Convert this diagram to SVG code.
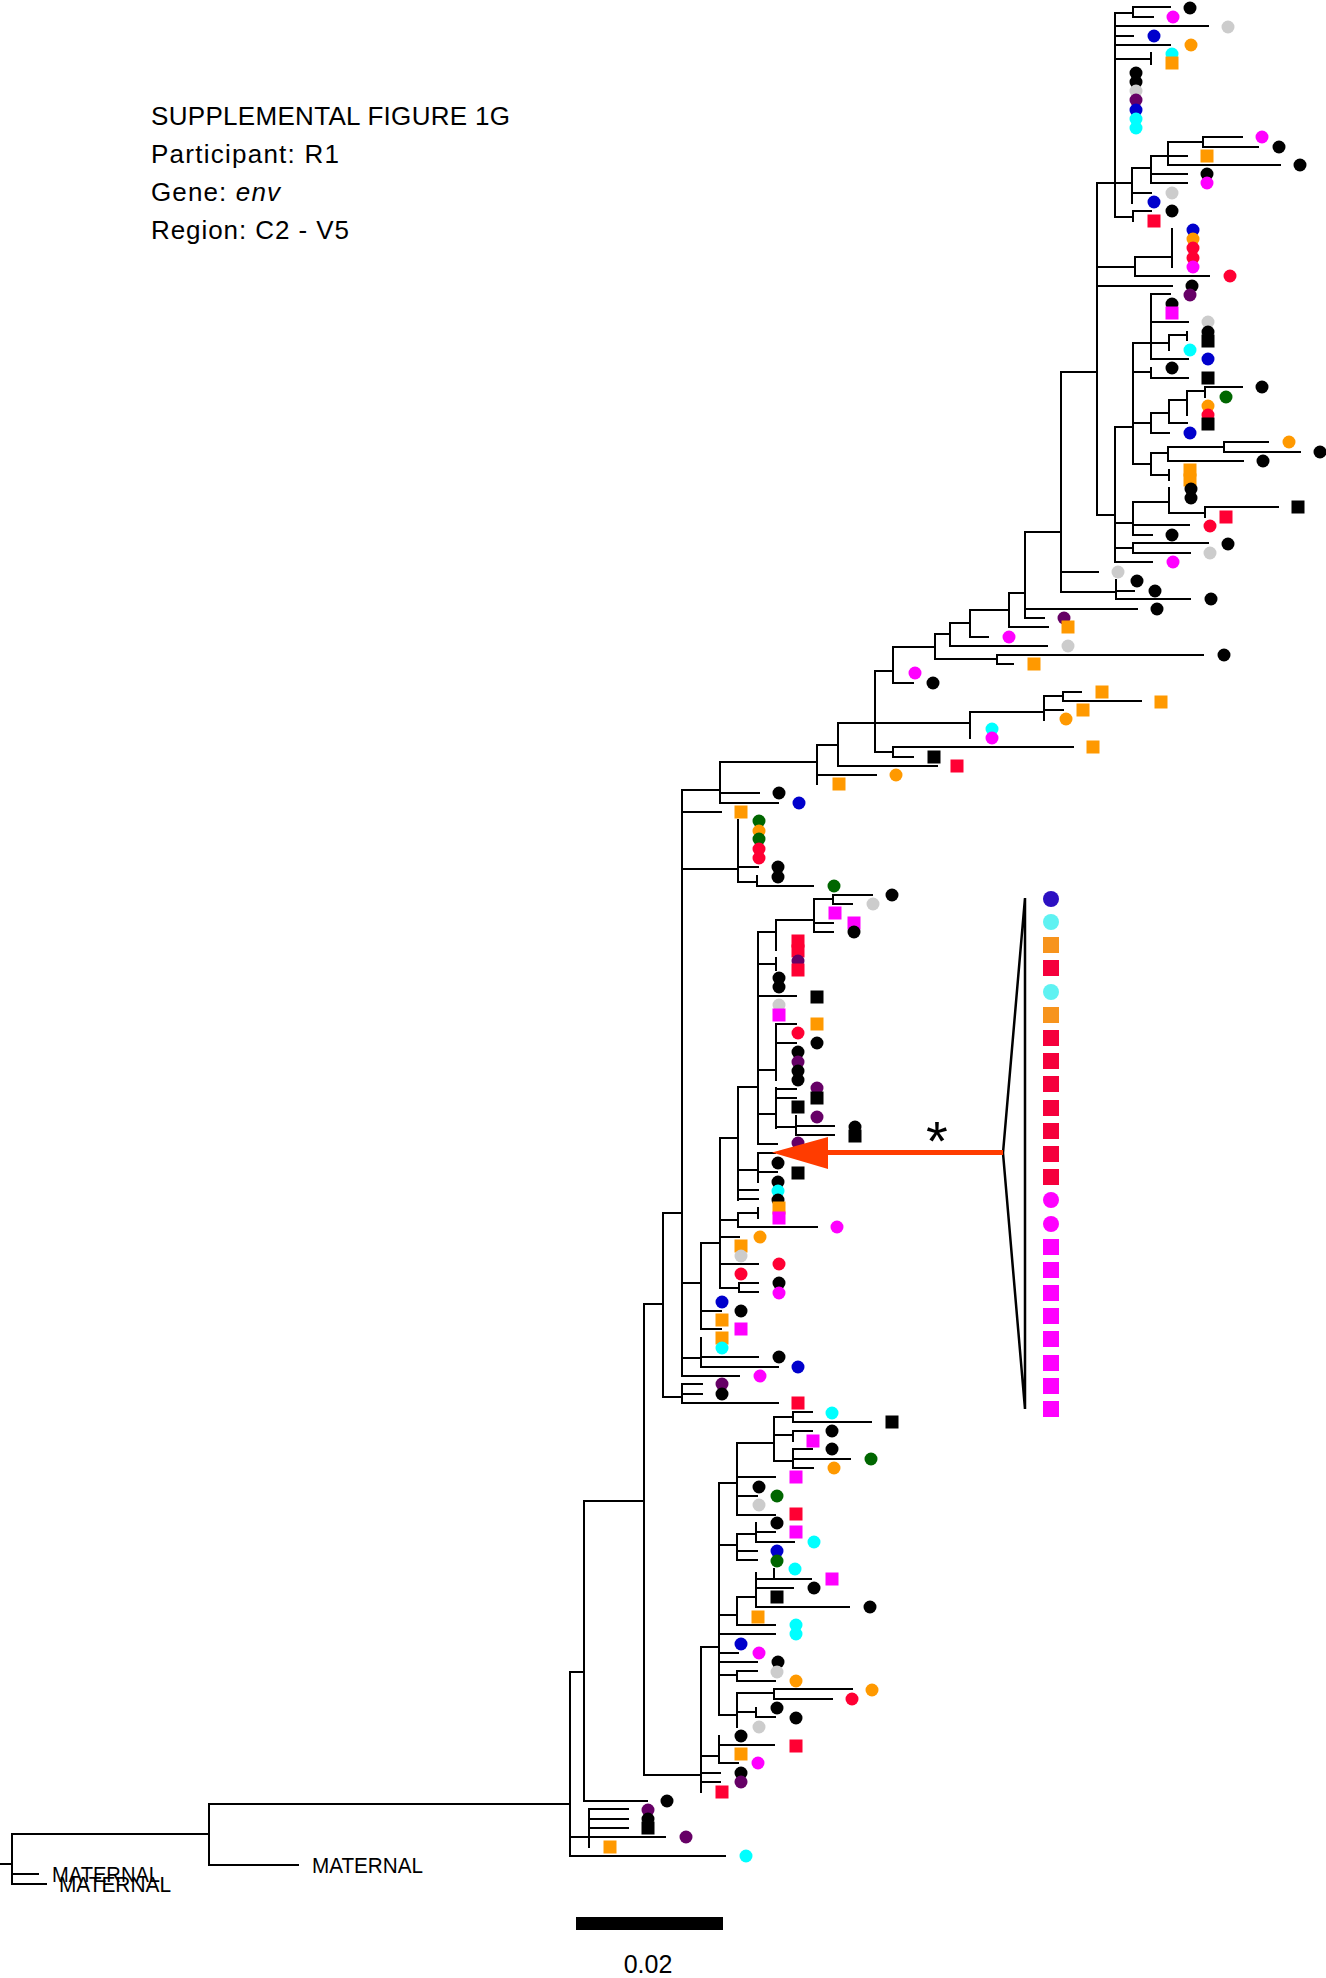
<svg xmlns="http://www.w3.org/2000/svg" width="1326" height="1978" viewBox="0 0 1326 1978">
<style>
.br{fill:none;stroke:#000;stroke-width:2;stroke-linecap:square}
.k{fill:#000}.m{fill:#ff00ff}.g{fill:#cccccc}.b{fill:#0000cc}.o{fill:#ff9900}.c{fill:#00ffff}.p{fill:#660066}.r{fill:#ff0033}.n{fill:#006600}
.lb{fill:#2c10c2}.lc{fill:#5ef2f2}.lo{fill:#f7941d}.lr{fill:#f5003c}.lm{fill:#ff00ff}
.t{font-family:"Liberation Sans",Arial,sans-serif;fill:#000}
</style>
<defs>
<circle id="d" r="6.5"/>
<rect id="s" x="-6.5" y="-6.5" width="13" height="13"/>
<circle id="D" r="8"/>
<rect id="S" x="-8" y="-8" width="16" height="16"/>
</defs>
<rect width="1326" height="1978" fill="#fff"/>
<g id="labels">
<text class="t" x="151" y="125" font-size="26" textLength="359" lengthAdjust="spacing">SUPPLEMENTAL FIGURE 1G</text>
<text class="t" x="151" y="163" font-size="26" textLength="188" lengthAdjust="spacing">Participant: R1</text>
<text class="t" x="151" y="201" font-size="26" textLength="129" lengthAdjust="spacing">Gene: <tspan font-style="italic">env</tspan></text>
<text class="t" x="151" y="239" font-size="26" textLength="198" lengthAdjust="spacing">Region: C2 - V5</text>
<text class="t" x="52" y="1882" font-size="22" textLength="108" lengthAdjust="spacingAndGlyphs">MATERNAL</text>
<text class="t" x="59" y="1892" font-size="22" textLength="112" lengthAdjust="spacingAndGlyphs">MATERNAL</text>
<text class="t" x="312" y="1873" font-size="22" textLength="111" lengthAdjust="spacingAndGlyphs">MATERNAL</text>
<text class="t" x="648" y="1973" font-size="25" text-anchor="middle">0.02</text>
<text class="t" x="937" y="1160" font-size="56" text-anchor="middle">*</text>
</g>
<g id="scalebar"><rect x="576" y="1917" width="147" height="13" fill="#000"/></g>
<g id="connectors">
<path class="br" d="M0 1864H12M12 1834V1884M12 1834H209M12 1874H38M12 1884H46M209 1804V1865M209 1804H570M209 1865H298
M570 1672V1856M570 1672H584M570 1837H665M570 1856H725
M589 1809V1847M589 1809H628M589 1819H628M589 1828H628
M584 1501V1801M584 1501H644M584 1801H647
M644 1304V1775M644 1304H663M644 1775H701
M663 1213V1397M663 1213H682M663 1397H682
M682 1384V1403M682 1384H702M682 1394H702M682 1403H778
M682 790V1376M682 790H720M682 812H721M682 869H738M682 1283H701M682 1358H701M682 1376H739
M701 1338V1367M701 1357H758M701 1367H778
M701 1243V1329M701 1243H720M701 1311H721M701 1329H721
M720 1138V1288M720 1138H738M720 1220H738M720 1237H739M720 1264H758M720 1288H739
M739 1283V1292M739 1283H758M739 1292H758
M738 1213V1227M738 1213H758M758 1208V1218M738 1227H817
M738 1087V1200M738 1087H758M738 1170H758M738 1190H758M738 1199H758
M758 1153V1182M758 1153H775M758 1172H777
M758 932V1144M758 932H776M758 964H776M758 996H796M758 1070H776M758 1114H776M758 1144H777
M776 920V950M776 920H814M776 958V970
M814 899V932M814 899H833M814 923H833M814 932H833
M833 895V904M833 895H872M833 904H852
M776 1024V1080M776 1024H796M776 1043H796
M776 1088V1128M776 1089H796M776 1098H796M776 1127H796
M796 1116V1135M796 1126H834M796 1135H834
M738 820V882M738 867H758M738 882H757
M757 876V886M757 886H813
M720 762V803M720 762H817M720 793H759M720 803H778
M817 745V784M817 745H838M817 775H876
M838 723V766M838 723H875M838 766H937
M875 671V752M875 671H893M875 723H970M875 752H893
M893 747V757M893 747H1073M893 757H913
M970 712V738M970 712H1044
M1044 696V720M1044 696H1063M1044 710H1063
M1063 692V701M1063 692H1081M1063 701H1141
M893 647V683M893 647H935M893 683H913
M935 634V659M935 634H950M935 659H997
M997 655V664M997 655H1203M997 664H1013
M950 623V646M950 623H970M950 646H1047
M970 610V637M970 610H1009M970 637H988
M1009 593V627M1009 593H1025M1009 627H1048
M1025 532V618M1025 532H1061M1025 609H1137M1025 618H1044
M1061 372V592M1061 372H1097M1061 572H1098M1061 592H1116
M1116 580V599M1116 591H1134M1116 599H1190
M1097 183V515M1097 183H1115M1097 267H1135M1097 286H1172M1097 515H1115
M1115 13V217M1115 13H1133M1115 26H1208M1115 36H1133M1115 45H1170M1115 59H1151M1115 183H1132M1115 217H1133
M1133 7V17M1133 7H1170M1133 17H1153
M1151 53V64
M1132 168V203M1132 168H1151M1132 193H1151
M1151 156V183M1151 156H1168M1151 174H1187M1151 183H1187
M1168 142V165M1168 142H1203M1168 156H1187M1168 165H1280
M1203 137V147M1203 137H1242M1203 147H1258
M1133 211V221M1133 211H1151
M1135 257V276M1135 257H1172M1135 276H1209
M1172 229V267
M1115 427V562M1115 427H1133M1115 523H1133M1115 548H1133M1115 562H1152
M1133 343V464M1133 343H1151M1133 372H1151M1133 423H1151M1133 464H1151
M1151 294V359M1151 294H1170M1151 322H1188M1151 343H1169M1151 359H1188
M1169 335V350M1169 335H1187M1187 332V340
M1151 368V378M1151 378H1188
M1151 413V433M1151 413H1169M1151 433H1169
M1169 400V423M1169 400H1187M1169 423H1187
M1187 391V415M1187 391H1205
M1205 387V397M1205 387H1242
M1151 453V475M1151 453H1168M1151 475H1169M1169 470V480
M1168 447V461M1168 447H1224M1168 461H1243
M1224 442V452M1224 442H1268M1224 452H1300
M1133 502V535M1133 502H1169M1133 525H1189M1133 535H1152
M1169 488V513M1169 513H1205
M1205 507V517M1205 507H1278
M1133 543V553M1133 543H1208M1133 553H1190
M719 1483V1715M719 1483H737M719 1545H737M719 1615H737M719 1634H775M719 1653H738M719 1662H757M719 1675H737M719 1715H737
M701 1647V1792M701 1647H719M701 1756H719M701 1773H720M701 1782H720
M737 1443V1515M737 1443H774M737 1477H775M737 1496H757M737 1515H775
M774 1417V1461M774 1417H793M774 1435H793M774 1461H793
M793 1412V1422M793 1412H812M793 1422H871
M793 1431V1441M793 1431H812
M793 1449V1468M793 1449H812M793 1459H850M793 1468H813
M737 1534V1560M737 1534H756M737 1551H757M737 1560H757
M756 1523V1542M756 1532H775M756 1542H794
M737 1597V1625M737 1597H756M737 1625H775
M756 1573V1607M756 1579H811M774 1569V1579M756 1588H793M756 1607H849
M737 1671V1681M737 1671H757M737 1681H775
M737 1693V1727M737 1693H774M737 1712H756
M774 1689V1699M774 1689H852M774 1699H832
M756 1708V1717M756 1717H775
M719 1736V1763M719 1745H774M719 1763H738"/>
</g>
<g id="tips">
<use href="#d" x="1190" y="8" class="k"/><use href="#d" x="1173" y="17" class="m"/><use href="#d" x="1228" y="27" class="g"/><use href="#d" x="1154" y="36" class="b"/><use href="#d" x="1191" y="45" class="o"/><use href="#d" x="1172" y="54" class="c"/><use href="#s" x="1172" y="63" class="o"/>
<use href="#d" x="1136" y="73" class="k"/><use href="#d" x="1136" y="82" class="k"/><use href="#d" x="1136" y="91" class="g"/><use href="#d" x="1136" y="100" class="p"/><use href="#d" x="1136" y="110" class="b"/><use href="#d" x="1136" y="119" class="c"/><use href="#d" x="1136" y="128" class="c"/>
<use href="#d" x="1262" y="137" class="m"/><use href="#d" x="1279" y="147" class="k"/><use href="#s" x="1207" y="156" class="o"/><use href="#d" x="1300" y="165" class="k"/><use href="#d" x="1207" y="174" class="k"/><use href="#d" x="1207" y="183" class="m"/><use href="#d" x="1172" y="193" class="g"/><use href="#d" x="1154" y="202" class="b"/><use href="#d" x="1172" y="211" class="k"/><use href="#s" x="1154" y="221" class="r"/>
<use href="#d" x="1193" y="230" class="b"/><use href="#d" x="1193" y="239" class="o"/><use href="#d" x="1193" y="248" class="r"/><use href="#d" x="1193" y="258" class="r"/><use href="#d" x="1193" y="267" class="m"/><use href="#d" x="1230" y="276" class="r"/><use href="#d" x="1192" y="286" class="k"/>
<use href="#d" x="1190" y="295" class="p"/><use href="#d" x="1172" y="304" class="k"/><use href="#s" x="1172" y="313" class="m"/><use href="#d" x="1208" y="322" class="g"/><use href="#d" x="1208" y="332" class="k"/><use href="#s" x="1208" y="341" class="k"/><use href="#d" x="1190" y="350" class="c"/><use href="#d" x="1208" y="359" class="b"/><use href="#d" x="1172" y="368" class="k"/><use href="#s" x="1208" y="378" class="k"/>
<use href="#d" x="1262" y="387" class="k"/><use href="#d" x="1226" y="397" class="n"/><use href="#d" x="1208" y="406" class="o"/><use href="#d" x="1208" y="415" class="r"/><use href="#s" x="1208" y="424" class="k"/><use href="#d" x="1190" y="433" class="b"/><use href="#d" x="1289" y="442" class="o"/><use href="#d" x="1320" y="452" class="k"/><use href="#d" x="1263" y="461" class="k"/><use href="#s" x="1190" y="470" class="o"/><use href="#s" x="1190" y="480" class="o"/>
<use href="#d" x="1191" y="489" class="k"/><use href="#d" x="1191" y="498" class="k"/><use href="#s" x="1298" y="507" class="k"/><use href="#s" x="1226" y="517" class="r"/><use href="#d" x="1210" y="526" class="r"/><use href="#d" x="1172" y="535" class="k"/><use href="#d" x="1228" y="544" class="k"/><use href="#d" x="1210" y="553" class="g"/><use href="#d" x="1173" y="562" class="m"/>
<use href="#d" x="1118" y="572" class="g"/><use href="#d" x="1137" y="581" class="k"/><use href="#d" x="1155" y="591" class="k"/><use href="#d" x="1211" y="599" class="k"/><use href="#d" x="1157" y="609" class="k"/><use href="#d" x="1064" y="618" class="p"/><use href="#s" x="1068" y="627" class="o"/><use href="#d" x="1009" y="637" class="m"/><use href="#d" x="1068" y="646" class="g"/><use href="#d" x="1224" y="655" class="k"/><use href="#s" x="1034" y="664" class="o"/><use href="#d" x="915" y="673" class="m"/><use href="#d" x="933" y="683" class="k"/>
<use href="#s" x="1102" y="692" class="o"/><use href="#s" x="1161" y="702" class="o"/><use href="#s" x="1083" y="710" class="o"/><use href="#d" x="1066" y="719" class="o"/><use href="#d" x="992" y="729" class="c"/><use href="#d" x="992" y="738" class="m"/><use href="#s" x="1093" y="747" class="o"/><use href="#s" x="934" y="757" class="k"/><use href="#s" x="957" y="766" class="r"/><use href="#d" x="896" y="775" class="o"/><use href="#s" x="839" y="784" class="o"/><use href="#d" x="779" y="793" class="k"/><use href="#d" x="799" y="803" class="b"/><use href="#s" x="741" y="812" class="o"/>
<use href="#d" x="759" y="821" class="n"/><use href="#d" x="759" y="831" class="o"/><use href="#d" x="759" y="839" class="n"/><use href="#d" x="759" y="849" class="r"/><use href="#d" x="759" y="858" class="r"/><use href="#d" x="778" y="867" class="k"/><use href="#d" x="778" y="877" class="k"/><use href="#d" x="834" y="886" class="n"/><use href="#d" x="892" y="895" class="k"/><use href="#d" x="873" y="904" class="g"/><use href="#s" x="835" y="913" class="m"/><use href="#s" x="854" y="923" class="m"/><use href="#d" x="854" y="932" class="k"/>
<use href="#s" x="798" y="941" class="r"/><use href="#s" x="798" y="951" class="r"/><use href="#d" x="798" y="961" class="p"/><use href="#s" x="798" y="970" class="r"/><use href="#d" x="779" y="978" class="k"/><use href="#d" x="779" y="987" class="k"/><use href="#s" x="817" y="997" class="k"/><use href="#d" x="779" y="1005" class="g"/><use href="#s" x="779" y="1015" class="m"/>
<use href="#s" x="817" y="1024" class="o"/><use href="#d" x="798" y="1033" class="r"/><use href="#d" x="817" y="1043" class="k"/><use href="#d" x="798" y="1052" class="k"/><use href="#d" x="798" y="1062" class="p"/><use href="#d" x="798" y="1071" class="k"/><use href="#d" x="798" y="1080" class="k"/><use href="#d" x="817" y="1088" class="p"/><use href="#s" x="817" y="1098" class="k"/><use href="#s" x="798" y="1107" class="k"/><use href="#d" x="817" y="1117" class="p"/><use href="#d" x="855" y="1127" class="k"/><use href="#s" x="855" y="1136" class="k"/><use href="#d" x="798" y="1143" class="p"/>
<use href="#d" x="778" y="1163" class="k"/><use href="#s" x="798" y="1173" class="k"/><use href="#d" x="778" y="1182" class="k"/><use href="#d" x="778" y="1191" class="c"/><use href="#d" x="778" y="1200" class="k"/><use href="#s" x="779" y="1208" class="o"/><use href="#s" x="779" y="1218" class="m"/><use href="#d" x="837" y="1227" class="m"/><use href="#d" x="760" y="1237" class="o"/><use href="#s" x="741" y="1246" class="o"/><use href="#d" x="741" y="1256" class="g"/><use href="#d" x="779" y="1264" class="r"/><use href="#d" x="741" y="1274" class="r"/><use href="#d" x="779" y="1283" class="k"/><use href="#d" x="779" y="1293" class="m"/>
<use href="#d" x="722" y="1302" class="b"/><use href="#d" x="741" y="1311" class="k"/><use href="#s" x="722" y="1320" class="o"/><use href="#s" x="741" y="1329" class="m"/><use href="#s" x="722" y="1338" class="o"/><use href="#d" x="722" y="1348" class="c"/><use href="#d" x="779" y="1357" class="k"/><use href="#d" x="798" y="1367" class="b"/><use href="#d" x="760" y="1376" class="m"/><use href="#d" x="722" y="1384" class="p"/><use href="#d" x="722" y="1394" class="k"/><use href="#s" x="798" y="1403" class="r"/>
<use href="#d" x="832" y="1413" class="c"/><use href="#s" x="892" y="1422" class="k"/><use href="#d" x="832" y="1431" class="k"/><use href="#s" x="813" y="1441" class="m"/><use href="#d" x="832" y="1449" class="k"/><use href="#d" x="871" y="1459" class="n"/><use href="#d" x="834" y="1468" class="o"/><use href="#s" x="796" y="1477" class="m"/><use href="#d" x="759" y="1487" class="k"/><use href="#d" x="777" y="1496" class="n"/><use href="#d" x="759" y="1505" class="g"/><use href="#s" x="796" y="1514" class="r"/>
<use href="#d" x="777" y="1523" class="k"/><use href="#s" x="796" y="1532" class="m"/><use href="#d" x="814" y="1542" class="c"/><use href="#d" x="777" y="1551" class="b"/><use href="#d" x="777" y="1561" class="n"/><use href="#d" x="795" y="1569" class="c"/><use href="#s" x="832" y="1579" class="m"/><use href="#d" x="814" y="1588" class="k"/><use href="#s" x="777" y="1597" class="k"/><use href="#d" x="870" y="1607" class="k"/><use href="#s" x="758" y="1617" class="o"/><use href="#d" x="796" y="1625" class="c"/><use href="#d" x="796" y="1634" class="c"/>
<use href="#d" x="741" y="1644" class="b"/><use href="#d" x="759" y="1653" class="m"/><use href="#d" x="778" y="1662" class="k"/><use href="#d" x="777" y="1672" class="g"/><use href="#d" x="796" y="1681" class="o"/><use href="#d" x="872" y="1690" class="o"/><use href="#d" x="852" y="1699" class="r"/><use href="#d" x="777" y="1708" class="k"/><use href="#d" x="796" y="1718" class="k"/><use href="#d" x="759" y="1727" class="g"/>
<use href="#d" x="741" y="1736" class="k"/><use href="#s" x="796" y="1746" class="r"/><use href="#s" x="741" y="1754" class="o"/><use href="#d" x="758" y="1763" class="m"/><use href="#d" x="741" y="1773" class="k"/><use href="#d" x="741" y="1782" class="p"/><use href="#s" x="722" y="1792" class="r"/>
<use href="#d" x="667" y="1801" class="k"/><use href="#d" x="648" y="1810" class="p"/><use href="#d" x="648" y="1819" class="k"/><use href="#s" x="648" y="1828" class="k"/><use href="#d" x="686" y="1837" class="p"/><use href="#s" x="610" y="1847" class="o"/><use href="#d" x="746" y="1856" class="c"/>
</g>
<g id="collapsed-clade">
<path d="M1025 898V1409M1025 898L1003 1153L1025 1409" fill="none" stroke="#000" stroke-width="2.5" stroke-linejoin="miter"/>
<use href="#D" x="1051" y="899" class="lb"/><use href="#D" x="1051" y="922" class="lc"/><use href="#S" x="1051" y="945" class="lo"/><use href="#S" x="1051" y="968" class="lr"/><use href="#D" x="1051" y="992" class="lc"/><use href="#S" x="1051" y="1015" class="lo"/><use href="#S" x="1051" y="1038" class="lr"/><use href="#S" x="1051" y="1061" class="lr"/><use href="#S" x="1051" y="1084" class="lr"/><use href="#S" x="1051" y="1108" class="lr"/><use href="#S" x="1051" y="1131" class="lr"/><use href="#S" x="1051" y="1154" class="lr"/><use href="#S" x="1051" y="1177" class="lr"/><use href="#D" x="1051" y="1200" class="lm"/><use href="#D" x="1051" y="1224" class="lm"/><use href="#S" x="1051" y="1247" class="lm"/><use href="#S" x="1051" y="1270" class="lm"/><use href="#S" x="1051" y="1293" class="lm"/><use href="#S" x="1051" y="1316" class="lm"/><use href="#S" x="1051" y="1339" class="lm"/><use href="#S" x="1051" y="1363" class="lm"/><use href="#S" x="1051" y="1386" class="lm"/><use href="#S" x="1051" y="1409" class="lm"/>
</g>
<g id="arrow">
<path d="M826 1152.5H1003" stroke="#ff3c00" stroke-width="5" fill="none"/>
<polygon points="772,1152.5 828,1137 828,1169" fill="#ff3c00"/>
</g>
</svg>
